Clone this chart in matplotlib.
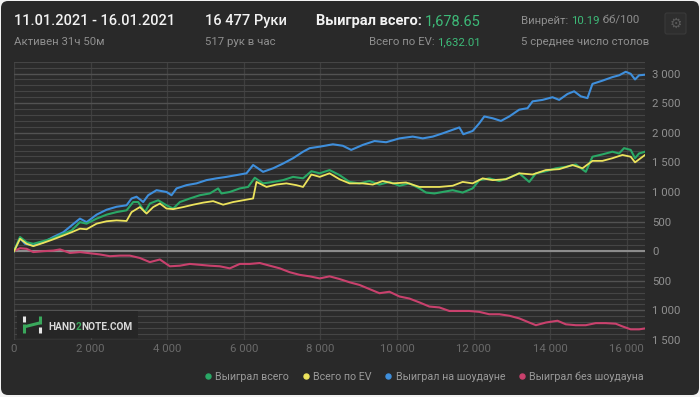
import matplotlib
matplotlib.use("Agg")
import matplotlib.pyplot as plt
from matplotlib.patches import FancyBboxPatch, Rectangle
from matplotlib.lines import Line2D
from matplotlib.ticker import MultipleLocator, FuncFormatter
from matplotlib.transforms import IdentityTransform

# ---------------- data ----------------
blue_x = [0, 157, 287, 504, 765, 1026, 1287, 1504, 1722, 1896, 2157, 2417, 2678, 2939, 3070, 3200, 3374,
          3504, 3722, 3983, 4113, 4244, 4504, 4765, 5026, 5287, 5548, 5809, 6070, 6244, 6504, 6766, 7026,
          7287, 7548, 7722, 7983, 8327, 8587, 8805, 9109, 9413, 9717, 10065, 10412, 10673, 10934, 11194,
          11455, 11629, 11733, 11976, 12150, 12281, 12498, 12715, 12932, 13193, 13410, 13541, 13801, 14062,
          14236, 14453, 14627, 14801, 14974, 15105, 15366, 15626, 15800, 15974, 16104, 16217, 16321, 16477]
blue_y = [0, 220, 125, 96, 150, 240, 320, 435, 550, 490, 617, 700, 750, 775, 890, 920, 830,
          945, 1030, 1000, 945, 1060, 1115, 1145, 1200, 1230, 1255, 1285, 1315, 1455, 1340, 1400, 1480,
          1570, 1680, 1740, 1765, 1805, 1780, 1710, 1795, 1860, 1840, 1905, 1935, 1905, 1935, 1990,
          2050, 2090, 1975, 2030, 2160, 2275, 2245, 2200, 2275, 2390, 2415, 2530, 2555, 2600,
          2555, 2655, 2700, 2615, 2585, 2825, 2880, 2940, 2970, 3030, 2995, 2900, 2970, 2980]

green_x = [0, 157, 330, 504, 765, 1026, 1287, 1504, 1722, 1896, 2157, 2417, 2678, 2939, 3113, 3243, 3418,
           3548, 3765, 3983, 4157, 4331, 4591, 4852, 5113, 5331, 5418, 5635, 5896, 6113, 6287, 6504, 6766,
           7026, 7287, 7548, 7765, 7983, 8240, 8500, 8761, 9022, 9283, 9543, 9804, 10065, 10325, 10586,
           10760, 10977, 11194, 11455, 11716, 11976, 12150, 12411, 12672, 12932, 13193, 13454, 13628, 13888,
           14149, 14410, 14670, 14931, 15105, 15366, 15626, 15800, 15930, 16104, 16217, 16321, 16477]
green_y = [0, 240, 150, 125, 170, 220, 295, 350, 490, 465, 550, 617, 660, 690, 830, 830, 660,
           805, 860, 775, 720, 830, 890, 945, 975, 1060, 975, 1000, 1060, 1085, 1240, 1145, 1170,
           1200, 1255, 1230, 1350, 1315, 1370, 1285, 1170, 1145, 1185, 1125, 1170, 1105, 1145, 1060,
           990, 975, 1000, 1030, 990, 1060, 1200, 1230, 1185, 1240, 1315, 1170, 1315, 1350,
           1400, 1425, 1465, 1340, 1595, 1635, 1680, 1650, 1740, 1710, 1570, 1650, 1680]

yellow_x = [0, 157, 330, 504, 765, 1026, 1287, 1504, 1722, 1896, 2157, 2417, 2678, 2939, 3070, 3287, 3461,
            3635, 3809, 3983, 4157, 4418, 4678, 4939, 5200, 5461, 5722, 5983, 6244, 6331, 6592, 6853, 7113,
            7374, 7548, 7765, 7983, 8240, 8500, 8761, 9109, 9369, 9630, 9891, 10238, 10586, 10847, 11107,
            11455, 11716, 11976, 12237, 12498, 12845, 13193, 13541, 13888, 14236, 14583, 14844, 15105, 15366,
            15626, 15887, 16104, 16217, 16477]
yellow_y = [0, 210, 125, 85, 140, 200, 265, 320, 380, 370, 465, 505, 520, 510, 660, 745, 635,
            745, 805, 720, 710, 745, 785, 820, 845, 785, 830, 860, 890, 1170, 1085, 1125, 1145,
            1115, 1085, 1295, 1255, 1315, 1215, 1145, 1145, 1125, 1185, 1145, 1160, 1085, 1085, 1085,
            1105, 1170, 1145, 1230, 1200, 1215, 1315, 1295, 1370, 1385, 1455, 1400, 1525, 1525,
            1570, 1625, 1595, 1500, 1625]

red_x = [0, 157, 330, 504, 765, 1026, 1200, 1461, 1722, 1983, 2243, 2504, 2765, 3026, 3287, 3548, 3809,
         4070, 4331, 4591, 4852, 5113, 5374, 5635, 5896, 6157, 6418, 6679, 6940, 7200, 7461, 7722, 7983,
         8240, 8500, 8761, 9022, 9283, 9543, 9804, 10065, 10325, 10586, 10847, 11107, 11368, 11629, 11890,
         12150, 12411, 12672, 12932, 13193, 13454, 13628, 13888, 14192, 14410, 14670, 14931, 15192, 15452,
         15713, 15887, 16104, 16321, 16477]
red_y = [0, 50, 40, -15, 0, 10, 30, -30, -15, -35, -55, -85, -75, -75, -115, -185, -140,
         -255, -245, -215, -230, -245, -255, -290, -215, -215, -200, -245, -290, -355, -400, -425, -460,
         -425, -470, -525, -570, -640, -710, -685, -765, -800, -865, -935, -950, -1010, -1010, -1010,
         -1025, -1065, -1065, -1090, -1135, -1205, -1250, -1205, -1175, -1235, -1250, -1250, -1215, -1215,
         -1225, -1270, -1320, -1320, -1305]

series_labels = ["Выиграл всего", "Всего по EV", "Выиграл на шоудауне", "Выиграл без шоудауна"]
x_max = 16477
y_min, y_max = -1500, 3200
x_ticks = [0, 2000, 4000, 6000, 8000, 10000, 12000, 14000, 16000]

# ---------------- style ----------------
W, H = 700, 397
FONT = ["Roboto", "DejaVu Sans"]
BG = "#292929"
PLOT_BG = "#2b2b2b"
C_GREEN = "#2aa866"
C_YELLOW = "#ece35c"
C_BLUE = "#3f8fdc"
C_RED = "#c9416d"
C_NUM = "#3dba78"
C_GRAY = "#8f8f8f"

plt.rcParams["font.family"] = FONT
fig = plt.figure(figsize=(W / 100, H / 100), dpi=100)
fig.patch.set_facecolor("#f2f2f2")

card = FancyBboxPatch((1, 2), 698, 394, boxstyle="round,pad=0,rounding_size=7",
                      transform=IdentityTransform(), facecolor=BG, edgecolor="none", zorder=-5)
fig.patches.append(card)


def fx(x):
    return x / W


def fy(y):
    return 1 - y / H


ax = fig.add_axes([fx(14), fy(340), (645 - 14) / W, (340 - 61.7) / H])
ax.set_zorder(1)
ax.set_facecolor(PLOT_BG)
for s in ax.spines.values():
    s.set_visible(False)

ax.set_xlim(0, x_max)
ax.set_ylim(y_min, y_max)
ax.yaxis.set_major_locator(MultipleLocator(500))
ax.yaxis.set_minor_locator(MultipleLocator(100))
ax.set_xticks(x_ticks)


def fmt_thousands(v, pos=None):
    v = int(round(abs(v)))
    return f"{v:,}".replace(",", " ")


ax.yaxis.set_major_formatter(FuncFormatter(fmt_thousands))
ax.xaxis.set_major_formatter(FuncFormatter(fmt_thousands))
ax.yaxis.tick_right()
ax.tick_params(axis="y", which="both", length=0, pad=5, labelsize=8.2, labelcolor=C_GRAY)
ax.tick_params(axis="x", which="both", length=0, pad=3, labelsize=8.2, labelcolor="#6a6a6a")

ax.set_axisbelow(True)
ax.yaxis.grid(True, which="minor", color="#454545", lw=0.8)
ax.yaxis.grid(True, which="major", color="#525252", lw=1.0)
ax.xaxis.grid(True, which="major", color="#3f3f3f", lw=0.9)
ax.axhline(0, color="#8c8c8c", lw=1.5, zorder=1)

ax.plot(blue_x, blue_y, color=C_BLUE, lw=1.5, zorder=3)
ax.plot(red_x, red_y, color=C_RED, lw=1.5, zorder=3)
ax.plot(green_x, green_y, color=C_GREEN, lw=1.5, zorder=4)
ax.plot(yellow_x, yellow_y, color=C_YELLOW, lw=1.3, zorder=5)

# ---------------- logo ----------------
logo = Rectangle((17, H - 338), 121, 27, transform=IdentityTransform(),
                 facecolor="#262626", edgecolor="none", zorder=6)
fig.patches.append(logo)
for (x0, y0, x1, y1, c) in [(23.5, 316, 23.5, 322, "#e6e6e6"), (23.5, 324, 23.5, 333, "#3aa85c"),
                            (23.5, 327, 39.5, 323, "#3aa85c"), (39.5, 316, 39.5, 324, "#3aa85c"),
                            (39.5, 326.5, 39.5, 333, "#e6e6e6")]:
    fig.lines.append(Line2D([x0, x1], [H - y0, H - y1], transform=IdentityTransform(),
                            color=c, lw=2.2, solid_capstyle="butt", zorder=7))

renderer = fig.canvas.get_renderer()


def chain(x, y, pieces, ha="left"):
    texts = []
    cur = x
    for s, c, w, sz in pieces:
        t = fig.text(fx(cur), fy(y), s, color=c, fontweight=w, fontsize=sz, va="center", ha="left",
                     family=FONT, zorder=8)
        bb = t.get_window_extent(renderer)
        texts.append(t)
        cur += bb.width
    if ha == "right":
        shift = x - cur
        for t in texts:
            px, py = t.get_position()
            t.set_position((px + shift / W, py))
    return texts


chain(48, 326.5, [("HAND", "#d8d8d8", "bold", 7.3), ("2", "#3aa85c", "bold", 7.3),
                  ("NOTE.COM", "#d8d8d8", "bold", 7.3)])

# ---------------- header ----------------
BIG, SMALL = 10.55, 8.2
chain(14, 21, [("11.01.2021 - 16.01.2021", "#f2f2f2", "medium", BIG)])
chain(14, 42, [("Активен 31ч 50м", C_GRAY, "normal", SMALL)])
chain(205, 21, [("16 477 Руки", "#f2f2f2", "medium", BIG)])
chain(205, 42, [("517 рук в час", C_GRAY, "normal", SMALL)])
chain(481, 21, [("Выиграл всего: ", "#f2f2f2", "bold", BIG), ("1,678.65", C_NUM, "normal", BIG)],
      ha="right")
chain(481, 42, [("Всего по EV: ", C_GRAY, "normal", SMALL), ("1,632.01", C_NUM, "normal", SMALL)],
      ha="right")
chain(521, 21, [("Винрейт: ", C_GRAY, "normal", SMALL), ("10.19", C_NUM, "normal", SMALL),
                (" бб/100", C_GRAY, "normal", SMALL)])
chain(521, 42, [("5 среднее число столов", C_GRAY, "normal", SMALL)])

gear_box = FancyBboxPatch((665, H - 34), 21, 21, boxstyle="round,pad=0,rounding_size=2",
                          transform=IdentityTransform(), facecolor="#2e2e2e", edgecolor="#3a3a3a",
                          lw=0.8, zorder=6)
fig.patches.append(gear_box)
fig.text(fx(675.5), fy(23.5), "⚙", color="#5a5a5a", fontsize=10, ha="center", va="center",
         family=["DejaVu Sans"], zorder=8)

# ---------------- legend ----------------
handles = [Line2D([], [], ls="none", marker="o", ms=3.6, color=c)
           for c in (C_GREEN, C_YELLOW, C_BLUE, C_RED)]
leg = fig.legend(handles, series_labels, loc="center right", bbox_to_anchor=(fx(644), fy(376.5)),
                 ncol=4, frameon=False, handlelength=0.5, handletextpad=0.45, columnspacing=1.3,
                 fontsize=7.7, labelcolor="#9a9a9a", borderpad=0, borderaxespad=0)

fig.savefig("out.png", dpi=100, facecolor=fig.get_facecolor())
